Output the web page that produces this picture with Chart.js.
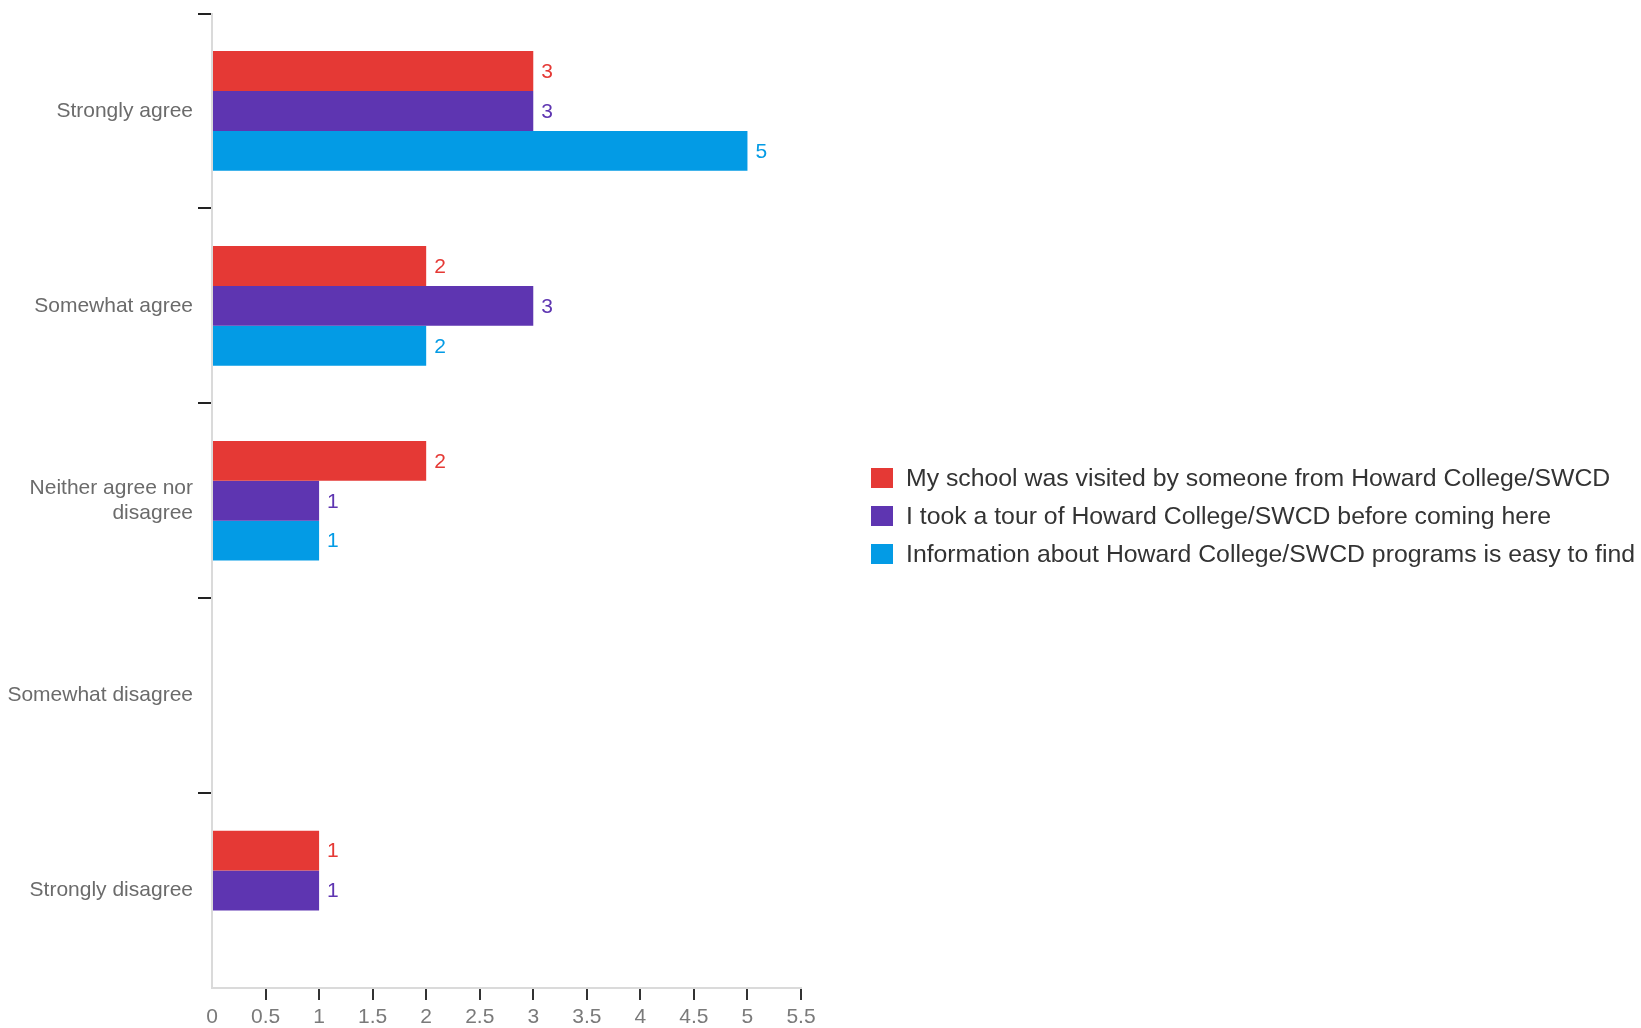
<!DOCTYPE html>
<html lang="en">
<head>
<meta charset="UTF-8">
<title>Howard College survey</title>
<style>
body { margin: 0; background: #fff; font-family: 'Liberation Sans', Arial, sans-serif; }
#wrap { position: relative; width: 1641px; height: 1028px; }
#legend { position: absolute; left: 871px; top: 459px; }
.item { height: 38px; line-height: 38px; font-size: 24.8px; color: #333; white-space: nowrap; }
.box { display: inline-block; width: 22px; height: 20px; margin-right: 13px; vertical-align: -2px; }
</style>
</head>
<body>
<div id="wrap">
  <canvas id="chart" width="1641" height="1028"></canvas>
  <div id="legend"></div>
</div>

<script src="https://cdn.jsdelivr.net/npm/chart.js"></script>
<script>
const categories = ['Strongly agree', 'Somewhat agree', ['Neither agree nor', 'disagree'], 'Somewhat disagree', 'Strongly disagree'];
const seriesNames = [
  'My school was visited by someone from Howard College/SWCD',
  'I took a tour of Howard College/SWCD before coming here',
  'Information about Howard College/SWCD programs is easy to find'
];
const visited = [3, 2, 2, 0, 1];
const tour = [3, 3, 1, 0, 1];
const infoEasy = [5, 2, 1, 0, 0];
const colors = ['#E53935', '#5E35B1', '#039BE5'];

const FONT = "'Liberation Sans', Arial, sans-serif";

// value labels at the end of each bar
const barLabels = {
  id: 'barLabels',
  afterDatasetsDraw(chart) {
    const ctx = chart.ctx;
    ctx.save();
    ctx.font = '21px ' + FONT;
    ctx.textBaseline = 'middle';
    ctx.textAlign = 'left';
    chart.data.datasets.forEach((ds, i) => {
      const meta = chart.getDatasetMeta(i);
      meta.data.forEach((bar, j) => {
        const v = ds.data[j];
        if (!v) return;
        ctx.fillStyle = ds.backgroundColor;
        ctx.fillText(String(v), bar.x + 8, bar.y + 1);
      });
    });
    ctx.restore();
  }
};

const chart = new Chart(document.getElementById('chart'), {
  type: 'bar',
  data: {
    labels: categories,
    datasets: [
      { label: seriesNames[0], data: visited, backgroundColor: colors[0] },
      { label: seriesNames[1], data: tour, backgroundColor: colors[1] },
      { label: seriesNames[2], data: infoEasy, backgroundColor: colors[2] }
    ]
  },
  options: {
    indexAxis: 'y',
    responsive: false,
    animation: false,
    categoryPercentage: 0.614,
    barPercentage: 1,
    layout: { padding: { top: 13.5, right: 840, bottom: 0, left: 0 } },
    plugins: {
      legend: { display: false },
      tooltip: { enabled: false }
    },
    scales: {
      y: {
        grid: {
          offset: true,
          drawOnChartArea: false,
          tickLength: 14,
          lineWidth: 2,
          // no mark on the bottom boundary (it sits on the x axis)
          color: c => c.type === 'tick' ? '#222' : 'rgba(0,0,0,0)'
        },
        border: { color: '#dadada', width: 2 },
        ticks: { color: '#6b6b6b', padding: 5, font: { family: FONT, size: 21, lineHeight: 1.2 } },
        afterFit: s => { s.width = 212; s.paddingTop = 0; s.paddingBottom = 0; }
      },
      x: {
        min: 0,
        max: 5.5,
        ticks: {
          stepSize: 0.5,
          color: '#7a7a7a',
          padding: 5,
          font: { family: FONT, size: 21 },
          callback: v => String(v)
        },
        grid: {
          drawOnChartArea: false,
          tickLength: 12,
          lineWidth: 2,
          color: c => c.index === 0 ? 'rgba(0,0,0,0)' : '#333'
        },
        border: { color: '#dadada', width: 2 },
        afterFit: s => { s.height = 40; }
      }
    }
  },
  plugins: [barLabels]
});

// legend built from the chart's datasets
const legend = document.getElementById('legend');
chart.data.datasets.forEach(ds => {
  const row = document.createElement('div');
  row.className = 'item';
  const box = document.createElement('span');
  box.className = 'box';
  box.style.background = ds.backgroundColor;
  row.appendChild(box);
  row.appendChild(document.createTextNode(ds.label));
  legend.appendChild(row);
});
</script>
</body>
</html>
